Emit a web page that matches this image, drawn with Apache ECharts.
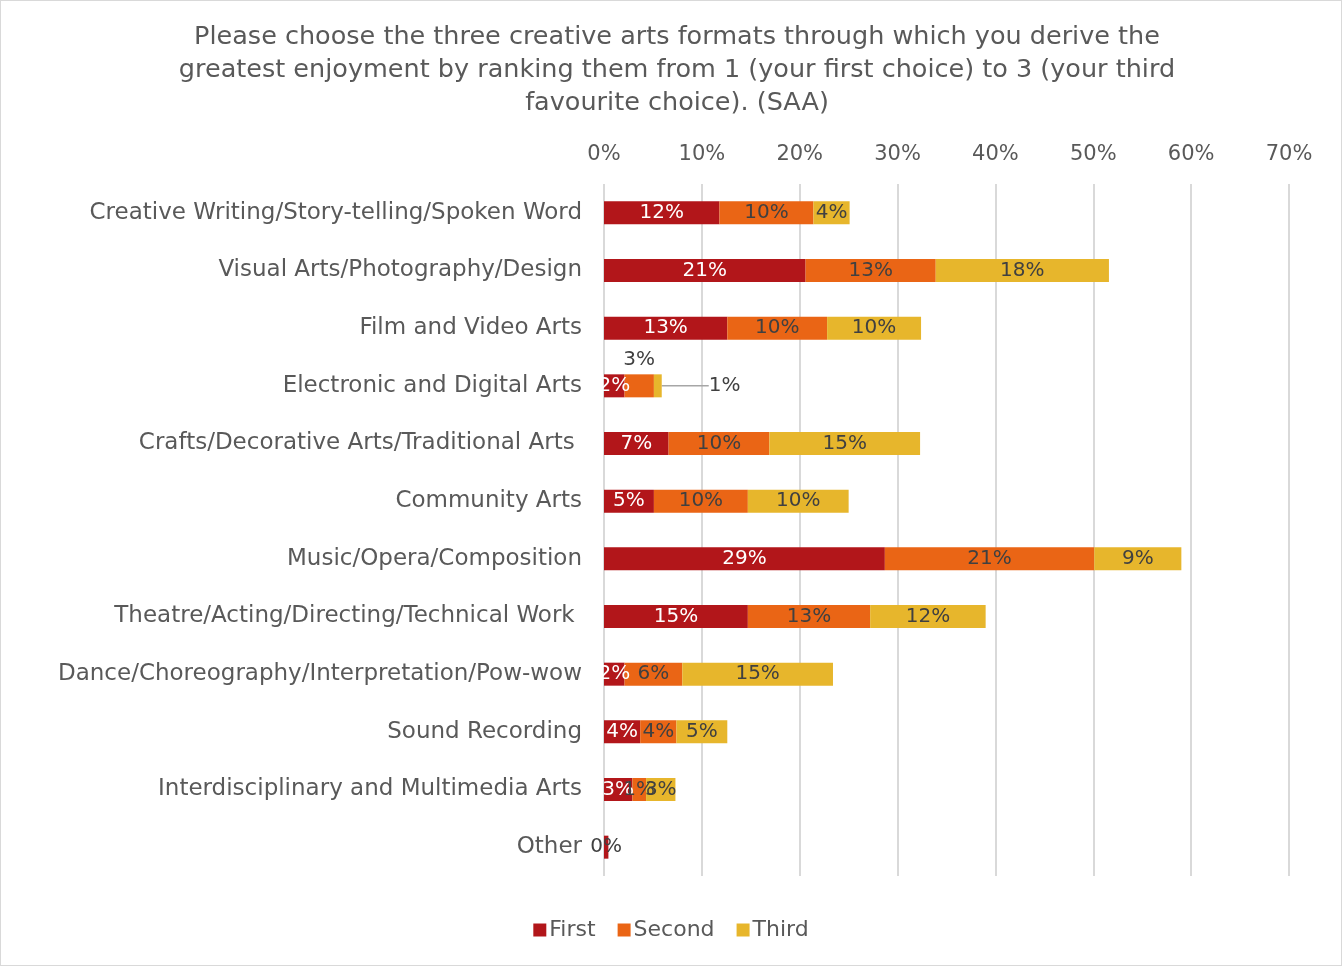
<!DOCTYPE html>
<html>
<head>
<meta charset="utf-8">
<title>Creative arts formats ranking</title>
<script src="https://cdn.jsdelivr.net/npm/echarts@6/dist/echarts.min.js"></script>
<style>
  html, body { margin: 0; padding: 0; background: #fff; }
  #chart { width: 1342px; height: 966px; box-sizing: border-box; border: 1px solid #d9d9d9; }
</style>
</head>
<body>
<div id="chart"></div>
<script>
// Survey categories, top to bottom
const categories = [
  'Creative Writing/Story-telling/Spoken Word',
  'Visual Arts/Photography/Design',
  'Film and Video Arts',
  'Electronic and Digital Arts',
  'Crafts/Decorative Arts/Traditional Arts ',
  'Community Arts',
  'Music/Opera/Composition',
  'Theatre/Acting/Directing/Technical Work ',
  'Dance/Choreography/Interpretation/Pow-wow',
  'Sound Recording',
  'Interdisciplinary and Multimedia Arts',
  'Other'
];

// Share of respondents (%) per ranking
const firstChoice  = [11.8, 20.6, 12.6, 2.1, 6.6, 5.1, 28.7, 14.7, 2.1, 3.7, 2.9, 0.45];
const secondChoice = [9.6, 13.3, 10.2, 3.0, 10.3, 9.6, 21.4, 12.5, 5.9, 3.7, 1.4, 0];
const thirdChoice  = [3.7, 17.7, 9.6, 0.8, 15.4, 10.3, 8.9, 11.8, 15.4, 5.2, 3.0, 0];

const xTicks = [0, 10, 20, 30, 40, 50, 60, 70];

const FONT = '"DejaVu Sans", sans-serif';
const TEXT = '#595959';
const LABEL_DARK = '#404040';

const pct = p => Math.round(p.value) + '%';

// Electronic and Digital Arts: second-choice label sits above the bar,
// third-choice label is pushed right with a leader line.
const ELECTRONIC = 3;
const OTHER = 11;

const firstData = firstChoice.map((v, i) => i === OTHER
  ? { value: v, label: { color: LABEL_DARK } }
  : v);
const secondData = secondChoice.map((v, i) => {
  if (i === OTHER) return { value: v, label: { show: false } };
  if (i === ELECTRONIC) return { value: v, label: { position: 'top', distance: 5 } };
  return v;
});
const thirdData = thirdChoice.map((v, i) => {
  if (i === OTHER) return { value: v, label: { show: false } };
  if (i === ELECTRONIC) return {
    value: v,
    label: { position: 'right', distance: 5 },
    labelLine: { show: true, lineStyle: { color: '#a6a6a6', width: 1.5 } }
  };
  return v;
});

const labelBase = { show: true, position: 'inside', fontFamily: FONT, fontSize: 20, formatter: pct };

const chart = echarts.init(document.getElementById('chart'), null, { renderer: 'canvas' });
chart.setOption({
  animation: false,
  textStyle: { fontFamily: FONT },
  title: {
    text: 'Please choose the three creative arts formats through which you derive the\ngreatest enjoyment by ranking them from 1 (your first choice) to 3 (your third\nfavourite choice). (SAA)',
    left: 671,
    textAlign: 'center',
    top: 15,
    textStyle: { fontFamily: FONT, fontSize: 25.5, fontWeight: 'normal', color: TEXT, lineHeight: 33 }
  },
  legend: {
    bottom: 19,
    left: 'center',
    itemWidth: 13,
    itemHeight: 13,
    itemGap: 22,
    icon: 'rect',
    textStyle: { fontFamily: FONT, fontSize: 22, color: TEXT, padding: [0, 0, 0, -2] },
    data: ['First', 'Second', 'Third']
  },
  grid: { left: 603, right: 52, top: 183, bottom: 89, containLabel: false },
  xAxis: {
    type: 'value',
    position: 'top',
    min: xTicks[0],
    max: xTicks[xTicks.length - 1],
    interval: 10,
    axisLine: { show: false },
    axisTick: { show: false },
    splitLine: { show: true, lineStyle: { color: '#d9d9d9', width: 2 } },
    axisLabel: { formatter: '{value}%', color: TEXT, fontSize: 21, fontFamily: FONT, margin: 19 }
  },
  yAxis: {
    type: 'category',
    inverse: true,
    data: categories,
    axisLine: { show: false },
    axisTick: { show: false },
    axisLabel: { color: TEXT, fontSize: 23, fontFamily: FONT, margin: 22 }
  },
  series: [
    {
      name: 'First', type: 'bar', stack: 'rank', barWidth: 23,
      itemStyle: { color: '#B2161A' },
      label: Object.assign({}, labelBase, { color: '#ffffff' }),
      data: firstData
    },
    {
      name: 'Second', type: 'bar', stack: 'rank', barWidth: 23,
      itemStyle: { color: '#EA6515' },
      label: Object.assign({}, labelBase, { color: LABEL_DARK }),
      data: secondData
    },
    {
      name: 'Third', type: 'bar', stack: 'rank', barWidth: 23,
      itemStyle: { color: '#E7B62C' },
      label: Object.assign({}, labelBase, { color: LABEL_DARK }),
      labelLayout: p => (p.dataIndex === ELECTRONIC ? { dx: 42 } : {}),
      data: thirdData
    }
  ]
});
</script>
</body>
</html>
